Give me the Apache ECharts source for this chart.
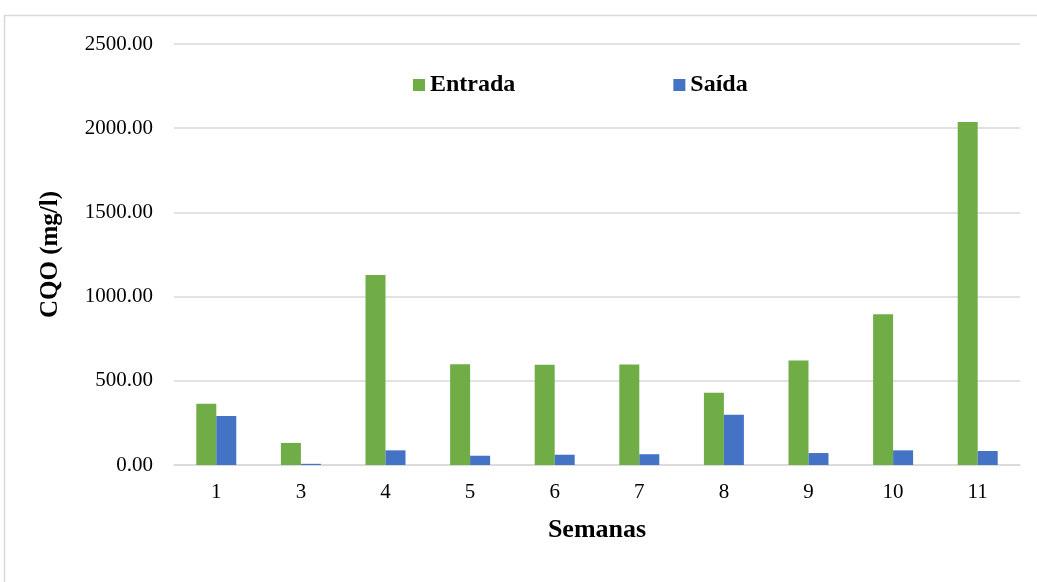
<!DOCTYPE html>
<html><head><meta charset="utf-8">
<script src="https://cdn.jsdelivr.net/npm/echarts@6/dist/echarts.min.js"></script>
<style>html,body{margin:0;padding:0;background:#fff}#c{width:1037px;height:582px}</style>
</head><body><div id="c"></div>
<script>
const semanas = ['1','3','4','5','6','7','8','9','10','11'];
const entrada = [364, 131, 1128, 598, 596, 597, 429, 620, 895, 2037];
const saida = [291, 7, 87, 55, 61, 64, 299, 71, 87, 83];
const yTicks = {min: 0, max: 2500, interval: 500};
const font = '"Liberation Serif", "Times New Roman", serif';
const chart = echarts.init(document.getElementById('c'), null, {renderer:'canvas'});
chart.setOption({
  animation: false,
  textStyle: {fontFamily: font},
  graphic: [{type:'rect', shape:{x:4.5,y:15.5,width:1100,height:700}, style:{fill:'none', stroke:'#d9d9d9', lineWidth:1.5}, silent:true}],
  legend: {
    top: 68, left: 408, itemGap: 158, itemWidth: 12, itemHeight: 12,
    icon: 'rect',
    textStyle: {fontFamily: font, fontSize: 24, fontWeight: 'bold', color: '#000'},
    data: ['Entrada','Saída']
  },
  grid: {left: 174, right: 17, top: 44, bottom: 117, containLabel: false},
  xAxis: {
    type: 'category', data: semanas,
    name: 'Semanas', nameLocation: 'middle', nameGap: 52,
    nameTextStyle: {fontFamily: font, fontSize: 26, fontWeight: 'bold', color: '#000'},
    axisLine: {lineStyle: {color: '#d9d9d9', width: 1.5}},
    axisTick: {show: false},
    axisLabel: {fontFamily: font, fontSize: 21, color: '#000', margin: 17}
  },
  yAxis: {
    type: 'value', min: yTicks.min, max: yTicks.max, interval: yTicks.interval,
    name: 'CQO (mg/l)', nameLocation: 'middle', nameGap: 111, nameRotate: 90,
    nameTextStyle: {fontFamily: font, fontSize: 25, fontWeight: 'bold', color: '#000'},
    axisLine: {show: false}, axisTick: {show: false},
    splitLine: {lineStyle: {color: '#d9d9d9', width: 1.5}},
    axisLabel: {fontFamily: font, fontSize: 21, color: '#000', margin: 21, formatter: v => v.toFixed(2)}
  },
  series: [
    {name:'Entrada', type:'bar', data: entrada, barWidth: 20, barGap: '0%', itemStyle:{color:'#70ad47'}},
    {name:'Saída', type:'bar', data: saida, barWidth: 20, barGap: '0%', itemStyle:{color:'#4472c4'}}
  ]
});
</script></body></html>
